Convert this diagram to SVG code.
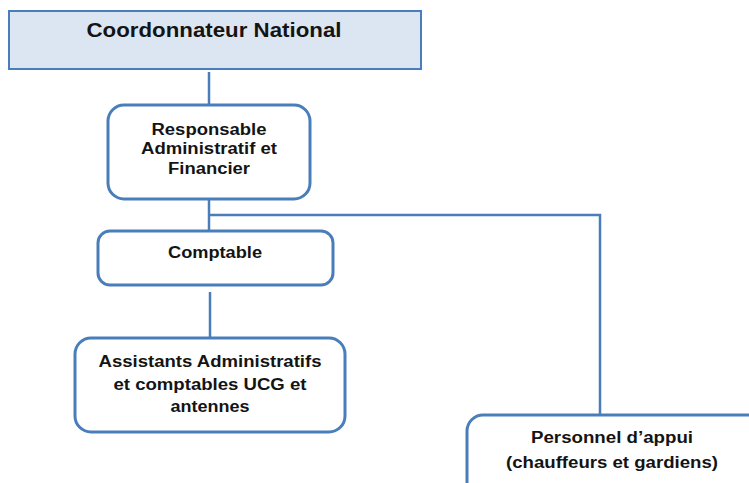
<svg xmlns="http://www.w3.org/2000/svg" width="749" height="483" viewBox="0 0 749 483">
<style>
.box{fill:#ffffff;stroke:#4a7ebb;stroke-width:3}
.top{fill:#dce6f2;stroke:#4a7ebb;stroke-width:2}
.conn{stroke:#4a7ebb;stroke-width:2.5;fill:none}
text{font-family:"Liberation Sans",Arial,sans-serif;font-weight:bold;fill:#141414;text-anchor:middle}
.t{font-size:16px}
.h{font-size:21px}
</style>
<rect width="749" height="483" fill="#ffffff"/>
<g id="connectors">
<line class="conn" x1="209" y1="72" x2="209" y2="105"/>
<line class="conn" x1="209" y1="199" x2="209" y2="231"/>
<polyline class="conn" points="209,215 600,215 600,415"/>
<line class="conn" x1="210" y1="292" x2="210" y2="338"/>
</g>
<g id="coordonnateur">
<rect class="top" x="9" y="11" width="412" height="58"/>
<text class="h" x="214" y="37" textLength="255" lengthAdjust="spacingAndGlyphs">Coordonnateur National</text>
</g>
<g id="raf">
<rect class="box" x="108" y="105" width="202" height="94" rx="16"/>
<text class="t" x="209" y="135" textLength="115" lengthAdjust="spacingAndGlyphs">Responsable</text>
<text class="t" x="209" y="154" textLength="136" lengthAdjust="spacingAndGlyphs">Administratif et</text>
<text class="t" x="209" y="174" textLength="82" lengthAdjust="spacingAndGlyphs">Financier</text>
</g>
<g id="comptable">
<rect class="box" x="98" y="231" width="235" height="54" rx="12"/>
<text class="t" x="215" y="258" textLength="94" lengthAdjust="spacingAndGlyphs">Comptable</text>
</g>
<g id="assistants">
<rect class="box" x="75" y="338" width="270" height="94" rx="16"/>
<text class="t" x="210" y="367" textLength="223" lengthAdjust="spacingAndGlyphs">Assistants Administratifs</text>
<text class="t" x="210" y="390" textLength="193" lengthAdjust="spacingAndGlyphs">et comptables UCG et</text>
<text class="t" x="210" y="412" textLength="79" lengthAdjust="spacingAndGlyphs">antennes</text>
</g>
<g id="personnel">
<rect class="box" x="467" y="415" width="310" height="90" rx="16"/>
<text class="t" x="612" y="443" textLength="162" lengthAdjust="spacingAndGlyphs">Personnel d’appui</text>
<text class="t" x="612" y="468" textLength="212" lengthAdjust="spacingAndGlyphs">(chauffeurs et gardiens)</text>
</g>
</svg>
